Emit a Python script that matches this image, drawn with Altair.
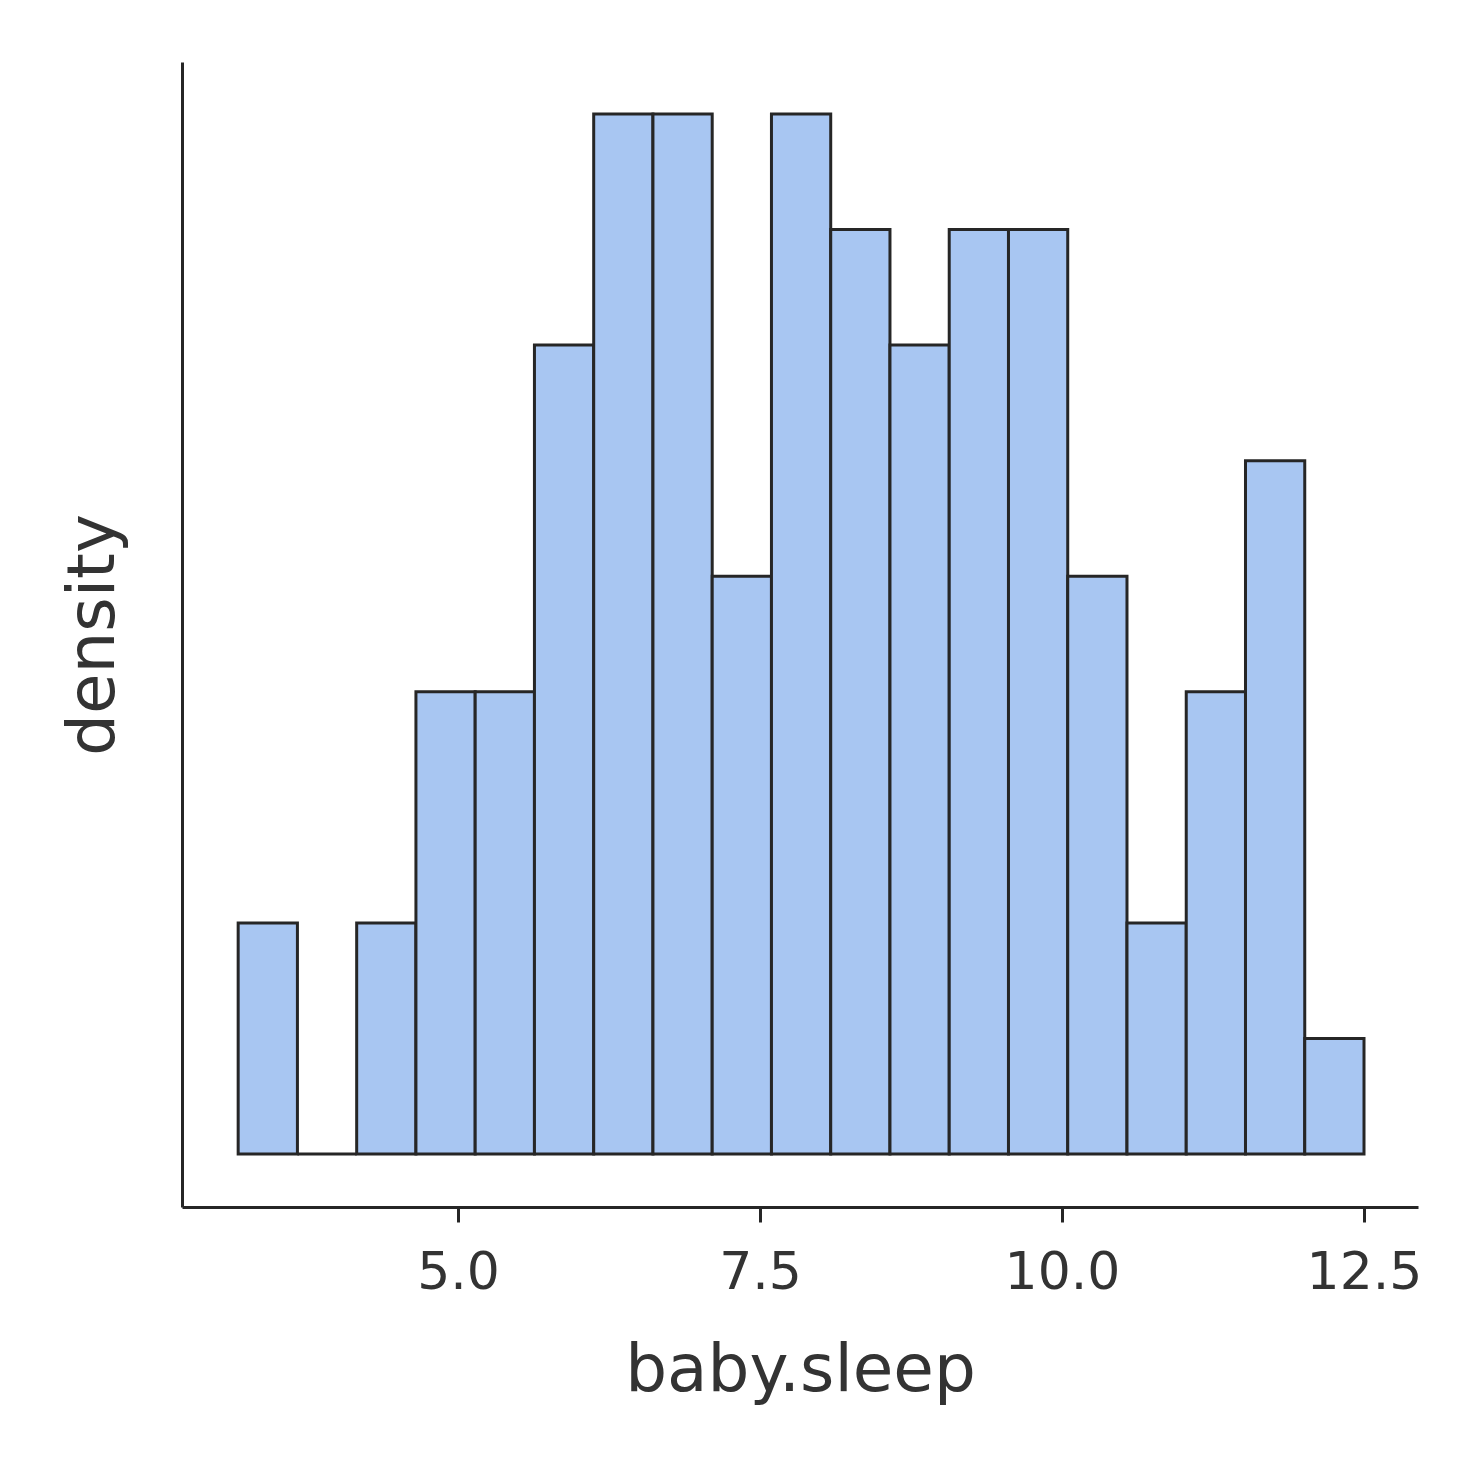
import altair as alt
import numpy as np
import pandas as pd

# Histogram of baby.sleep (counts per bin)
counts = [2, 0, 2, 4, 4, 7, 9, 9, 5, 9, 8, 7, 8, 8, 5, 2, 4, 6, 1]
bin_lo = 3.18
bin_hi = 12.5
x_ticks = [5.0, 7.5, 10.0, 12.5]

edges = np.linspace(bin_lo, bin_hi, len(counts) + 1)
df = pd.DataFrame({"start": edges[:-1], "end": edges[1:], "count": counts})

FILL = "#A8C6F2"
DARK = "#262626"
TEXT = "#333333"
FONT = "DejaVu Sans"

chart = (
    alt.Chart(df)
    .mark_rect(fill=FILL, stroke=DARK, strokeWidth=3)
    .encode(
        x=alt.X(
            "start:Q",
            scale=alt.Scale(domain=[2.715, 12.947], nice=False, zero=False),
            axis=alt.Axis(
                title="baby.sleep",
                values=x_ticks,
                format=".1f",
                grid=False,
                domainColor=DARK,
                domainWidth=3,
                tickColor=DARK,
                tickWidth=3,
                tickSize=15,
                labelFont=FONT,
                labelFontSize=52,
                labelColor=TEXT,
                labelPadding=25,
                titleFont=FONT,
                titleFontSize=66,
                titleFontWeight="normal",
                titleColor=TEXT,
                titlePadding=40,
            ),
        ),
        x2="end:Q",
        y=alt.Y(
            "count:Q",
            scale=alt.Scale(domain=[-0.4585, 9.45], nice=False, zero=False),
            axis=alt.Axis(
                title="density",
                ticks=False,
                labels=False,
                grid=False,
                domainColor=DARK,
                domainWidth=3,
                titleFont=FONT,
                titleFontSize=66,
                titleFontWeight="normal",
                titleColor=TEXT,
                titlePadding=55,
            ),
        ),
        y2=alt.datum(0),
    )
    .properties(
        width=1236,
        height=1145,
        autosize=alt.AutoSizeParams(type="none"),
        padding={"left": 174, "top": 54, "right": 40, "bottom": 200},
    )
    .configure_view(stroke=None)
)

chart.save("out.html", embed_options={"renderer": "svg", "actions": False})
